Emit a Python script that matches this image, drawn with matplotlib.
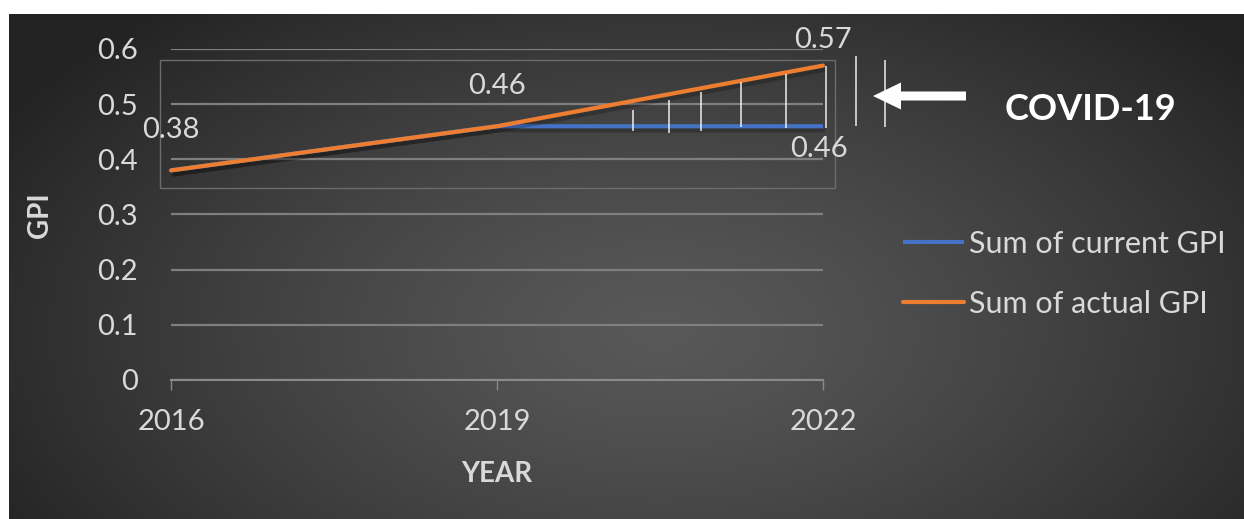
import numpy as np
import matplotlib
matplotlib.use("Agg")
import matplotlib.pyplot as plt
import matplotlib.patheffects as pe
from matplotlib.patches import Rectangle, FancyArrow

plt.rcParams['font.family'] = ['Lato', 'DejaVu Sans']

# series
years = [2016, 2019, 2022]
current_gpi = [0.38, 0.46, 0.46]
actual_gpi = [0.38, 0.46, 0.57]
yticks = [0, 0.1, 0.2, 0.3, 0.4, 0.5, 0.6]

# white hatch lines between the two series after 2019 (x, bottom, top)
hatch_x = [2020.25, 2020.58, 2020.88, 2021.25, 2021.66, 2022.03, 2022.30, 2022.57]
hatch_lo = [0.451, 0.448, 0.451, 0.459, 0.457, 0.457, 0.460, 0.459]
hatch_hi = [0.489, 0.508, 0.522, 0.540, 0.555, 0.569, 0.587, 0.580]

W, H = 1244, 519
TXT = '#d9d9d9'
FS = 21
fig = plt.figure(figsize=(W / 100, H / 100), dpi=100, facecolor='white')

# background panel in pixel coordinates
bg = fig.add_axes([0, 0, 1, 1], zorder=0)
bg.set_xlim(0, W)
bg.set_ylim(H, 0)
bg.axis('off')
xx, yy = np.meshgrid(np.arange(9, W), np.arange(14, H))
r = np.sqrt(((xx - 660) / 760.0) ** 2 + ((yy - 330) / 430.0) ** 2)
r = np.clip(r, 0, 1)
inner, outer = 0x58, 0x23
val = (inner + (outer - inner) * r ** 1.3) / 255.0
img = np.dstack([val, val, val])
bg.imshow(img, extent=(9, W, H, 14), aspect='auto', interpolation='bilinear')

# frame around the upper region
bg.add_patch(Rectangle((160, 60), 675, 128, fill=False, ec='#6c6c6c', lw=1))

# arrow pointing at the covid period
bg.add_patch(FancyArrow(966, 96, -93, 0, width=9, head_width=27, head_length=28,
                        length_includes_head=True, color='white', lw=0))
bg.text(1005, 110, 'COVID-19', color='white', fontsize=26, fontweight='bold',
        va='center', ha='left')

ax = fig.add_axes([171 / W, 1 - 380 / H, 652 / W, 331 / H], zorder=1)
ax.patch.set_alpha(0)
ax.set_xlim(2016, 2022)
ax.set_ylim(0, 0.6)
for s in ['top', 'right', 'left']:
    ax.spines[s].set_visible(False)
ax.spines['bottom'].set_color('#8a8a8a')
ax.spines['bottom'].set_linewidth(1.5)
ax.grid(axis='y', color='#7f7f7f', lw=1.6)
ax.set_axisbelow(True)

ax.set_xticks(years)
ax.set_xticklabels([str(y) for y in years])
ax.set_yticks(yticks)
ax.set_yticklabels(['0' if v == 0 else f'{v:.1f}' for v in yticks])
ax.tick_params(axis='x', length=7, width=1, color='#8a8a8a', pad=14,
               labelsize=FS, labelcolor=TXT)
ax.tick_params(axis='y', length=0, pad=24, labelsize=FS, labelcolor=TXT)

shadow = [pe.SimpleLineShadow(offset=(1.5, -3), shadow_color='black', alpha=0.22),
          pe.Normal()]
ax.plot(years, current_gpi, color='#4472C4', lw=3, label='Sum of current GPI',
        solid_capstyle='butt', path_effects=shadow, clip_on=False, zorder=3)
ax.plot(years, actual_gpi, color='#ED7D31', lw=3, label='Sum of actual GPI',
        solid_capstyle='round', path_effects=shadow, clip_on=False, zorder=4)

ax.vlines(hatch_x, hatch_lo, hatch_hi, colors='white', lw=1.1, alpha=0.9,
          clip_on=False, zorder=5)

# value labels
offsets = [(0, 40), (0, 40), (0, 26)]
for x, y, off in zip(years, actual_gpi, offsets):
    ax.annotate(f'{y:.2f}', (x, y), xytext=off, textcoords='offset pixels',
                ha='center', va='center', fontsize=FS, color=TXT, zorder=6)
ax.annotate(f'{current_gpi[-1]:.2f}', (years[-1], current_gpi[-1]), xytext=(-4, -23),
            textcoords='offset pixels', ha='center', va='center', fontsize=FS,
            color=TXT, zorder=6)

ax.set_xlabel('YEAR', fontsize=20, fontweight='bold', color=TXT)
ax.xaxis.set_label_coords(0.5, -(474 - 380) / 331)
ax.xaxis.label.set_va('center')
ax.set_ylabel('GPI', fontsize=20, fontweight='bold', color=TXT)
ax.yaxis.set_label_coords(-(171 - 40) / 652, (380 - 215) / 331)
ax.yaxis.label.set_va('center')

leg = fig.legend(loc='upper left', bbox_to_anchor=(903 / W, 1 - 230 / H),
                 frameon=False, fontsize=22, labelcolor=TXT, handlelength=2.0,
                 handletextpad=0.15, labelspacing=1.05, borderpad=0, borderaxespad=0)
for h in leg.get_lines():
    h.set_linewidth(3)
    h.set_path_effects([])

fig.savefig('out.png', dpi=100, facecolor='white')
